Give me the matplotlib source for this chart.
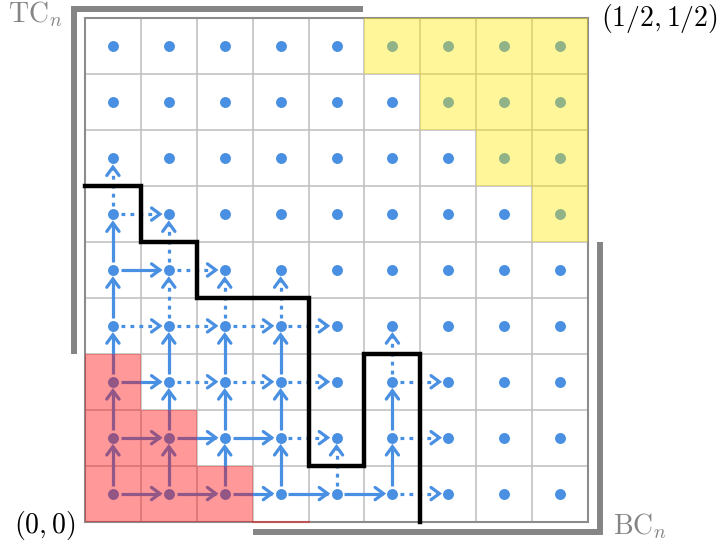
import numpy as np
import matplotlib
matplotlib.use("Agg")
import matplotlib.pyplot as plt
from matplotlib.patches import Rectangle

plt.rcParams['mathtext.fontset'] = 'cm'

N = 9  # lattice is N x N cells, one point per cell

# red staircase: number of shaded cells in rows 0, 1, 2 (from the left)
red_row_len = [3, 2, 1]
# yellow staircase: number of shaded cells in rows 8, 7, 6, 5 (from the right)
yellow_rows = [8, 7, 6, 5]
yellow_row_len = [4, 3, 2, 1]

# black cut path (cell corner coordinates)
cut_x = [0, 1, 1, 2, 2, 4, 4, 5, 5, 6, 6]
cut_y = [6, 6, 5, 5, 4, 4, 1, 1, 3, 3, 0]

# arrows: starting cell (col, row)
right_solid = [(0, 0), (1, 0), (2, 0), (3, 0), (4, 0),
               (0, 1), (1, 1), (2, 1), (0, 2), (0, 4)]
right_dotted = [(5, 0), (3, 1), (5, 1), (1, 2), (2, 2), (3, 2), (5, 2),
                (0, 3), (1, 3), (2, 3), (3, 3), (1, 4), (0, 5)]
up_solid = [(0, 0), (1, 0), (2, 0), (3, 0), (5, 0),
            (0, 1), (1, 1), (2, 1), (3, 1), (5, 1),
            (0, 2), (1, 2), (2, 2), (3, 2), (0, 3), (0, 4)]
up_dotted = [(4, 0), (5, 2), (1, 3), (2, 3), (3, 3), (1, 4), (0, 5)]

# corner brackets
tc_x = [-0.19, -0.19, 4.97]
tc_y = [3.0, 9.16, 9.16]
bc_x = [3.0, 9.21, 9.21]
bc_y = [-0.19, -0.19, 5.0]

BLUE = '#4a90e2'
GRAY = '#858585'

fig = plt.figure(figsize=(7.2, 5.48), dpi=100)
ax = fig.add_axes([0, 0, 1, 1])
ax.set_xlim(-1.52, 11.36)
ax.set_ylim(-0.464, 9.32)
ax.set_aspect('equal')
ax.axis('off')

# grid
for k in range(1, N):
    ax.plot([k, k], [0, N], color='#bdbdbd', lw=1.1, zorder=1)
    ax.plot([0, N], [k, k], color='#bdbdbd', lw=1.1, zorder=1)
ax.add_patch(Rectangle((0, 0), N, N, fill=False, ec='#8c8c8c', lw=1.5, zorder=1.5))

# lattice points
xs, ys = np.meshgrid(np.arange(N) + 0.5, np.arange(N) + 0.5)
ax.scatter(xs.ravel(), ys.ravel(), s=62, color=BLUE, lw=0, zorder=3)


def draw_arrow(i, j, dx, dy, dotted):
    sx, sy = i + 0.5, j + 0.5
    d = np.array([dx, dy], float)
    nrm = np.array([-dy, dx], float)
    start = np.array([sx, sy]) + 0.14 * d
    tip = np.array([sx, sy]) + (1 - 0.16) * d
    ls = (0, (1.2, 1.6)) if dotted else '-'
    end = tip - 0.03 * d if dotted else tip
    ax.plot([start[0], end[0]], [start[1], end[1]], color=BLUE, lw=2.3,
            linestyle=ls, dash_capstyle='butt', solid_capstyle='butt', zorder=2.5)
    hl, hw = 0.15, 0.11
    a = tip - hl * d + hw * nrm
    b = tip - hl * d - hw * nrm
    ax.plot([a[0], tip[0], b[0]], [a[1], tip[1], b[1]], color=BLUE, lw=2.3,
            solid_capstyle='round', solid_joinstyle='miter', zorder=2.5)


for i, j in right_solid:
    draw_arrow(i, j, 1, 0, False)
for i, j in right_dotted:
    draw_arrow(i, j, 1, 0, True)
for i, j in up_solid:
    draw_arrow(i, j, 0, 1, False)
for i, j in up_dotted:
    draw_arrow(i, j, 0, 1, True)

# shaded regions
for row, n in enumerate(red_row_len):
    for c in range(n):
        ax.add_patch(Rectangle((c, row), 1, 1, color='#ff0000', alpha=0.4, lw=0, zorder=4))
ax.plot([3, 4], [0, 0], color='#ff0000', alpha=0.4, lw=1.5, zorder=4)
for row, n in zip(yellow_rows, yellow_row_len):
    for c in range(N - n, N):
        ax.add_patch(Rectangle((c, row), 1, 1, color='#ffe800', alpha=0.4, lw=0, zorder=4))

# cut path and brackets
ax.plot(cut_x, cut_y, color='black', lw=3.2, solid_joinstyle='miter', zorder=5)
ax.plot(tc_x, tc_y, color=GRAY, lw=4.3, solid_joinstyle='miter',
        solid_capstyle='butt', zorder=5)
ax.plot(bc_x, bc_y, color=GRAY, lw=4.3, solid_joinstyle='miter',
        solid_capstyle='butt', zorder=5)

# labels
ax.text(-0.88, 9.08, r'$\mathrm{TC}_n$', color=GRAY, fontsize=20, ha='center', va='center')
ax.text(10.27, 8.99, r'$(1/2, 1/2)$', color='black', fontsize=20, ha='center', va='center')
ax.text(-0.72, -0.07, r'$(0,0)$', color='black', fontsize=20, ha='center', va='center')
ax.text(9.93, -0.08, r'$\mathrm{BC}_n$', color=GRAY, fontsize=20, ha='center', va='center')

fig.savefig('out.png', dpi=100)
